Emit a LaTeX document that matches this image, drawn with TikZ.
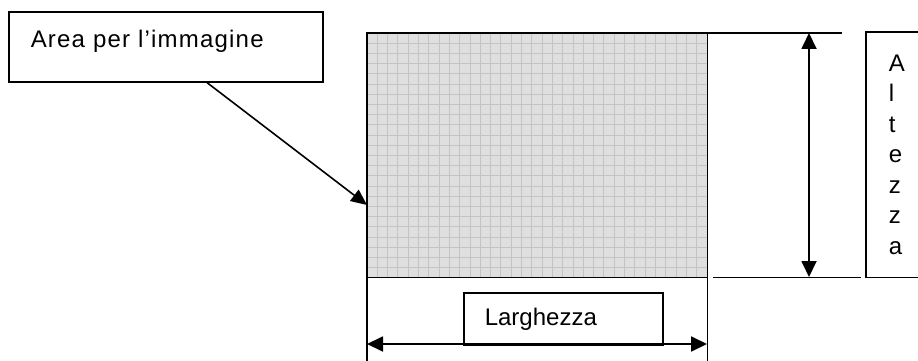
\documentclass[tikz,border=0pt]{standalone}
\usepackage{fontspec}
\setmainfont{Liberation Sans}
\newfontfamily\widefont[LetterSpace=5]{Liberation Sans}
\usetikzlibrary{arrows.meta}
\definecolor{gridfill}{RGB}{223,223,223}
\definecolor{gridline}{RGB}{196,196,196}

\tikzset{
  labelbox/.style={draw, line width=1.6pt, inner sep=0pt, anchor=north west},
  dimline/.style={line width=1.8pt},
  dimarrow/.style={line width=1.8pt, {Triangle[length=16pt,width=15pt]}-{Triangle[length=16pt,width=15pt]}}
}

\begin{document}
\begin{tikzpicture}[x=1pt, y=-1pt, font=\fontsize{24}{29}\selectfont]
  \def\L{367}
  \def\R{707}
  \def\T{33}
  \def\B{277}
  \def\dx{10.3}
  \def\dy{10.2}
  \useasboundingbox (0,0) rectangle (918,361);

  %image area:
  \node[fill=gridfill, inner sep=0pt, minimum width=340pt, minimum height=244pt,
        anchor=north west] (img) at (\L,\T) {};
  \foreach \i in {1,...,32}{
    \draw[gridline, line width=0.9pt] ({\L+\i*\dx},\T) -- ({\L+\i*\dx},\B);
  }
  \foreach \j in {1,...,23}{
    \draw[gridline, line width=0.9pt] (\L,{\T+\j*\dy}) -- (\R,{\T+\j*\dy});
  }
  \draw[line width=1.6pt] (img.north west) rectangle (img.south east);

  %extension lines
  \draw[dimline] (img.south west) -- ++(0,84);
  \draw[dimline] (img.south east) -- ++(0,84);
  \draw[dimline] (img.north east) -- ++(135,0);
  \draw[dimline] ([xshift=6pt]img.south east) -- ++(148,0);

  %dimensions
  \coordinate (htop) at (809,\T);
  \coordinate (hbot) at (809,\B);
  \coordinate (wleft) at (\L,344);
  \coordinate (wright) at (\R,344);
  \draw[dimarrow] (htop) -- (hbot);
  \draw[dimarrow] (wleft) -- (wright);

  %labels
  \node[labelbox, inner xsep=22pt, text width=270pt, align=left,
        text height=36pt, text depth=34pt] (area) at (8,11) {\widefont Area per l’immagine};
  \node[labelbox, inner xsep=21pt, text width=157pt, align=left,
        text height=33pt, text depth=19pt] (larg) at (463,292) {Larghezza};
  % box runs past the right edge of the page
  \node[labelbox, draw=none, inner xsep=22pt, minimum height=244pt, align=left,
        font=\fontsize{24}{30.5}\selectfont] (alt) at (866,32) {A\\l\\t\\e\\z\\z\\a};
  \draw[line width=1.6pt] ([xshift=40pt]alt.north east) -- (alt.north west)
    -- (alt.south west) -- ([xshift=40pt]alt.south east);

  \coordinate (areatip) at (\L,205);
  \draw[line width=1.6pt, -{Triangle[length=16pt,width=14pt]}]
    ([xshift=199pt]area.south west) -- (areatip);
\end{tikzpicture}
\end{document}
